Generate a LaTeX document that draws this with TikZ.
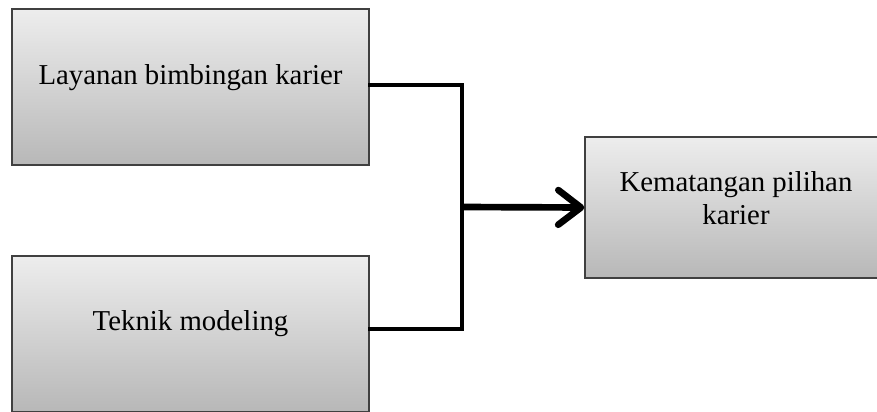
\documentclass[tikz,border=0pt]{standalone}
\usepackage{fontspec}
\setmainfont{Liberation Serif}
\usetikzlibrary{arrows.meta, shadows}

\begin{document}
\begin{tikzpicture}[x = 0.75pt, y = -0.75pt, % one unit is one pixel
                font = \fontsize{21.6}{25}\selectfont,
                semithick % line style
            ]

            \tikzstyle{kotak}=[draw = black!75, line width = 1.1pt, rectangle,
            top color = black!7, bottom color = black!28, align = center,
            drop shadow = {shadow xshift = 0.8pt, shadow yshift = -0.8pt,
            opacity = 0.25}]
            \tikzstyle{garis}=[line width = 2.3pt, line cap = rect]
            \tikzstyle{panah}=[line width = 5pt, line cap = butt,
            -{Straight Barb[length = 17pt, width = 26pt, round]}]

            \clip (0,0) rectangle (877,411);
            \useasboundingbox (0,0) rectangle (877,411);

            \node (layanan) [kotak, minimum width = 267.75pt, minimum height = 117pt,
            label = {[yshift = 7pt]center:Layanan bimbingan karier}] at (190.5,87) {};
            \node (teknik) [kotak, minimum width = 267.75pt, minimum height = 117pt,
            label = {[yshift = 8pt]center:Teknik modeling}] at (190.5,334) {};
            \node (kematangan) [kotak, minimum width = 226.5pt, minimum height = 105.75pt,
            label = {[yshift = 7pt, align = center]center:Kematangan pilihan\\karier}]
            at (736,207.5) {};
            \coordinate (simpul) at (462,207);

            \draw[garis] ([yshift = 1.5pt]layanan.east) -| (simpul)
            |- ([yshift = 3.75pt]teknik.east);
            \draw[panah] (simpul) -- (kematangan.west);
        \end{tikzpicture}
\end{document}
